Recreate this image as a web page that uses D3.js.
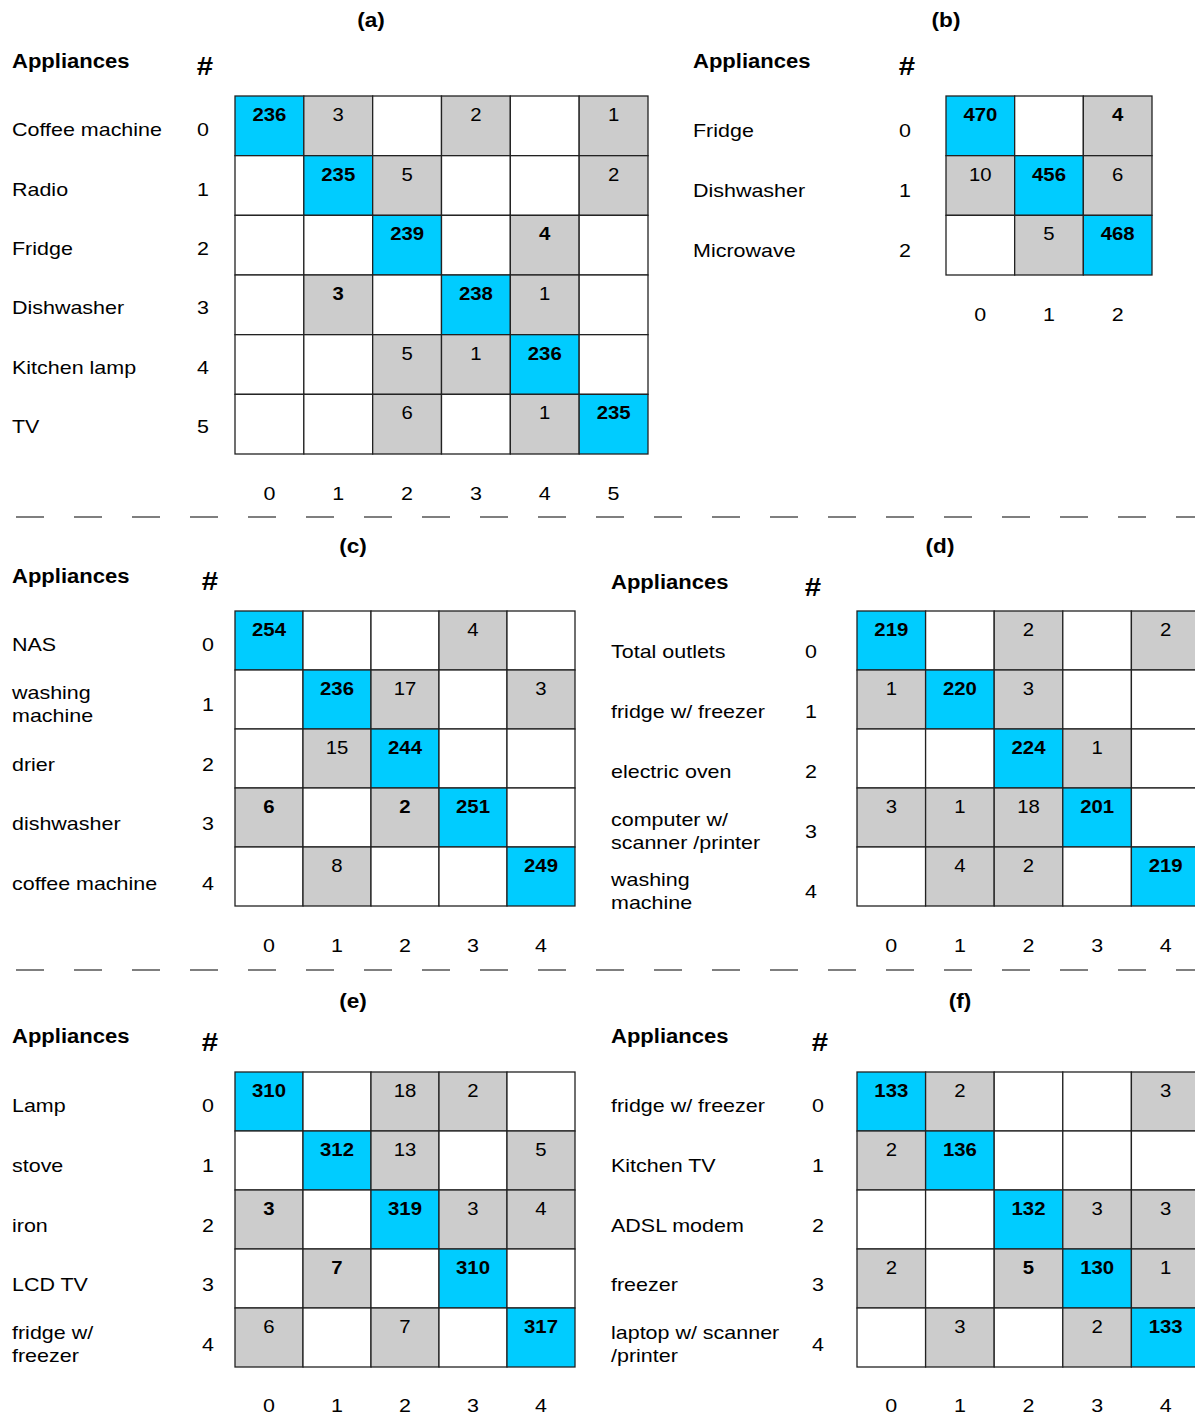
<!DOCTYPE html>
<html>
<head>
<meta charset="utf-8">
<script src="https://cdn.jsdelivr.net/npm/d3@7"></script>
<style>
  body { margin: 0; background: #fff; }
  text { font-family: "Liberation Sans", Arial, sans-serif; fill: #000; }
</style>
</head>
<body>
<div id="chart"></div>
<script>
(function() {
	// confusion matrices, null = empty cell
	var labelsA = ["Coffee machine", "Radio", "Fridge", "Dishwasher", "Kitchen lamp", "TV"];
	var countsA = [
		[236, 3, null, 2, null, 1],
		[null, 235, 5, null, null, 2],
		[null, null, 239, null, 4, null],
		[null, 3, null, 238, 1, null],
		[null, null, 5, 1, 236, null],
		[null, null, 6, null, 1, 235]
	];
	var boldA = [[2, 4], [3, 1]];

	var labelsB = ["Fridge", "Dishwasher", "Microwave"];
	var countsB = [
		[470, null, 4],
		[10, 456, 6],
		[null, 5, 468]
	];
	var boldB = [[0, 2]];

	var labelsC = ["NAS", "washing\nmachine", "drier", "dishwasher", "coffee machine"];
	var countsC = [
		[254, null, null, 4, null],
		[null, 236, 17, null, 3],
		[null, 15, 244, null, null],
		[6, null, 2, 251, null],
		[null, 8, null, null, 249]
	];
	var boldC = [[3, 0], [3, 2]];

	var labelsD = ["Total outlets", "fridge w/ freezer", "electric oven", "computer w/\nscanner /printer", "washing\nmachine"];
	var countsD = [
		[219, null, 2, null, 2],
		[1, 220, 3, null, null],
		[null, null, 224, 1, null],
		[3, 1, 18, 201, null],
		[null, 4, 2, null, 219]
	];
	var boldD = [];

	var labelsE = ["Lamp", "stove", "iron", "LCD TV", "fridge w/\nfreezer"];
	var countsE = [
		[310, null, 18, 2, null],
		[null, 312, 13, null, 5],
		[3, null, 319, 3, 4],
		[null, 7, null, 310, null],
		[6, null, 7, null, 317]
	];
	var boldE = [[2, 0], [3, 1]];

	var labelsF = ["fridge w/ freezer", "Kitchen TV", "ADSL modem", "freezer", "laptop w/ scanner\n/printer"];
	var countsF = [
		[133, 2, null, null, 3],
		[2, 136, null, null, null],
		[null, null, 132, 3, 3],
		[2, null, 5, 130, 1],
		[null, 3, null, 2, 133]
	];
	var boldF = [[3, 2]];

	var titles = ["(a)", "(b)", "(c)", "(d)", "(e)", "(f)"];

	// layout of each panel on the page
	var panels = [
		{labels: labelsA, counts: countsA, bold: boldA, tx: 371, ty: 20, hx: 12, hy: 61, sx: 205, sy: 66,
			gx: [235, 648], gy: [96, 454], nx: 203, ly: [100, 456], tickY: 493},
		{labels: labelsB, counts: countsB, bold: boldB, tx: 946, ty: 20, hx: 693, hy: 61, sx: 907, sy: 66,
			gx: [946, 1152], gy: [96, 275], nx: 905, ly: [100, 280], tickY: 314},
		{labels: labelsC, counts: countsC, bold: boldC, tx: 353, ty: 546, hx: 12, hy: 576, sx: 210, sy: 581,
			gx: [235, 575], gy: [611, 906], nx: 208, ly: [615, 913], tickY: 945},
		{labels: labelsD, counts: countsD, bold: boldD, tx: 940, ty: 546, hx: 611, hy: 582, sx: 813, sy: 587,
			gx: [857, 1200], gy: [611, 906], nx: 811, ly: [621, 921], tickY: 945},
		{labels: labelsE, counts: countsE, bold: boldE, tx: 353, ty: 1001, hx: 12, hy: 1036, sx: 210, sy: 1042,
			gx: [235, 575], gy: [1072, 1367], nx: 208, ly: [1076, 1374], tickY: 1405},
		{labels: labelsF, counts: countsF, bold: boldF, tx: 960, ty: 1001, hx: 611, hy: 1036, sx: 820, sy: 1042,
			gx: [857, 1200], gy: [1072, 1367], nx: 818, ly: [1076, 1374], tickY: 1405}
	];

	var width = 1195, height = 1417;
	var stretch = 1.13; // the original figure's text is a bit wider than Arial

	function at(x, y) {
		return "translate(" + x + "," + y + ") scale(" + stretch + ",1)";
	}

	var svg = d3.select("#chart")
		.append("svg")
		.attr("width", width)
		.attr("height", height);

	// dashed separators between the rows of panels
	svg.selectAll("line.sep")
		.data([517, 970])
		.enter()
		.append("line")
		.attr("class", "sep")
		.attr("x1", 16)
		.attr("x2", width)
		.attr("y1", function(d) { return d; })
		.attr("y2", function(d) { return d; })
		.attr("stroke", "#555")
		.attr("stroke-width", 1.5)
		.attr("stroke-dasharray", "28,30");

	panels.forEach(function(p, pi) {
		var n = p.labels.length;
		var idx = d3.range(n);

		var xScale = d3.scaleBand().domain(idx).range(p.gx);
		var yScale = d3.scaleBand().domain(idx).range(p.gy);
		var labelScale = d3.scaleBand().domain(idx).range(p.ly);

		var g = svg.append("g");

		g.append("text")
			.attr("transform", at(p.tx, p.ty))
			.attr("text-anchor", "middle")
			.attr("dominant-baseline", "central")
			.attr("font-weight", "bold")
			.attr("font-size", 20)
			.text(titles[pi]);

		g.append("text")
			.attr("transform", at(p.hx, p.hy))
			.attr("dominant-baseline", "central")
			.attr("font-weight", "bold")
			.attr("font-size", 19.5)
			.text("Appliances");

		g.append("text")
			.attr("transform", at(p.sx, p.sy))
			.attr("text-anchor", "middle")
			.attr("dominant-baseline", "central")
			.attr("font-weight", "bold")
			.attr("font-size", 26)
			.text("#");

		// row labels, possibly on two lines
		g.selectAll("text.lab")
			.data(p.labels)
			.enter()
			.append("text")
			.attr("class", "lab")
			.attr("font-size", 19)
			.attr("dominant-baseline", "central")
			.attr("transform", function(d, i) {
				return at(p.hx, labelScale(i) + labelScale.bandwidth() / 2);
			})
			.each(function(d) {
				var lines = d.split("\n");
				d3.select(this).selectAll("tspan")
					.data(lines)
					.enter()
					.append("tspan")
					.attr("x", 0)
					.attr("y", function(l, j) { return (j - (lines.length - 1) / 2) * 23; })
					.text(function(l) { return l; });
			});

		// row numbers
		g.selectAll("text.num")
			.data(idx)
			.enter()
			.append("text")
			.attr("class", "num")
			.attr("transform", function(d) {
				return at(p.nx, labelScale(d) + labelScale.bandwidth() / 2);
			})
			.attr("text-anchor", "middle")
			.attr("dominant-baseline", "central")
			.attr("font-size", 19)
			.text(function(d) { return d; });

		// cells
		var cells = [];
		p.counts.forEach(function(row, r) {
			row.forEach(function(v, c) {
				var isBold = r === c || p.bold.some(function(b) { return b[0] === r && b[1] === c; });
				cells.push({r: r, c: c, v: v, bold: isBold});
			});
		});

		g.selectAll("rect.cell")
			.data(cells)
			.enter()
			.append("rect")
			.attr("class", "cell")
			.attr("x", function(d) { return xScale(d.c); })
			.attr("y", function(d) { return yScale(d.r); })
			.attr("width", xScale.bandwidth())
			.attr("height", yScale.bandwidth())
			.attr("fill", function(d) {
				if (d.r === d.c) return "#00ccff";
				return d.v === null ? "#ffffff" : "#cccccc";
			})
			.attr("stroke", "#222")
			.attr("stroke-width", 1.3);

		g.selectAll("text.val")
			.data(cells.filter(function(d) { return d.v !== null; }))
			.enter()
			.append("text")
			.attr("class", "val")
			.attr("transform", function(d) {
				return at(xScale(d.c) + xScale.bandwidth() / 2, yScale(d.r) + 19);
			})
			.attr("text-anchor", "middle")
			.attr("dominant-baseline", "central")
			.attr("font-size", 18)
			.attr("font-weight", function(d) { return d.bold ? "bold" : "normal"; })
			.text(function(d) { return d.v; });

		// column numbers
		g.selectAll("text.tick")
			.data(idx)
			.enter()
			.append("text")
			.attr("class", "tick")
			.attr("transform", function(d) {
				return at(xScale(d) + xScale.bandwidth() / 2, p.tickY);
			})
			.attr("text-anchor", "middle")
			.attr("dominant-baseline", "central")
			.attr("font-size", 19)
			.text(function(d) { return d; });
	});
})();
</script>
</body>
</html>
